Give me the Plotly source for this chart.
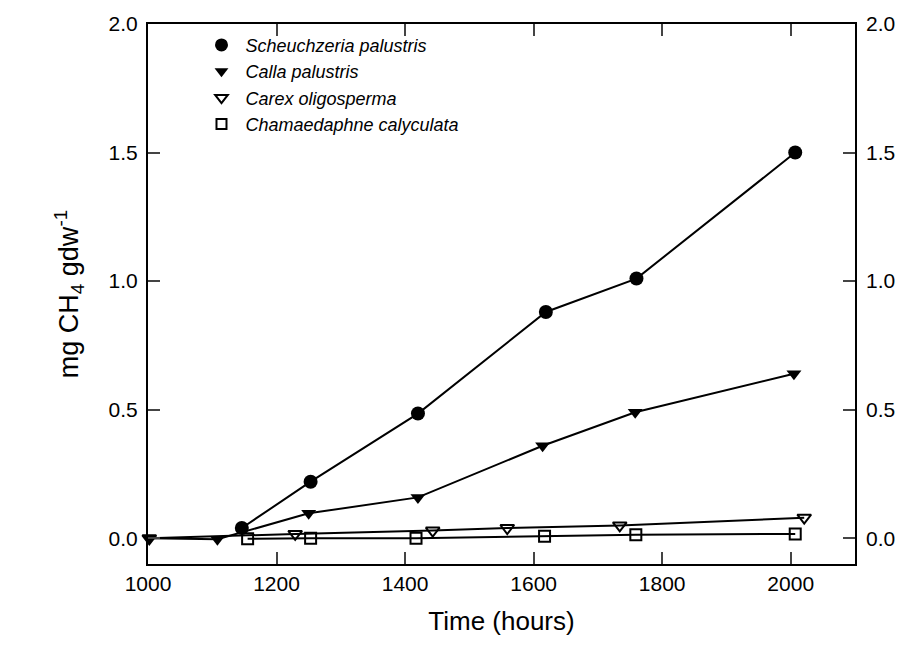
import plotly.graph_objects as go

# Data
scheu_x = [1146, 1253, 1420, 1619, 1760, 2007]
scheu_y = [0.04, 0.22, 0.485, 0.88, 1.01, 1.50]

calla_x = [1002, 1108, 1250, 1420, 1614, 1758, 2005]
calla_y = [0.0, -0.004, 0.097, 0.159, 0.36, 0.49, 0.64]

carex_x = [1002, 1229, 1443, 1559, 1734, 2021]
carex_y = [0.0, 0.017, 0.03, 0.04, 0.05, 0.08]

chama_x = [1155, 1253, 1417, 1617, 1759, 2007]
chama_y = [-0.002, 0.0, 0.0, 0.008, 0.014, 0.017]

names = ["Scheuchzeria palustris", "Calla palustris", "Carex oligosperma", "Chamaedaphne calyculata"]

x_ticks = [1000, 1200, 1400, 1600, 1800, 2000]
y_ticks = [0.0, 0.5, 1.0, 1.5, 2.0]

FONT = "Liberation Sans, Arial, sans-serif"

series = [
    (scheu_x, scheu_y, dict(symbol="circle", size=14, color="black", line=dict(width=0))),
    (calla_x, calla_y, dict(symbol="triangle-down", size=13, color="black", line=dict(width=0))),
    (carex_x, carex_y, dict(symbol="triangle-down-open", size=12, color="black", line=dict(width=2, color="black"))),
    (chama_x, chama_y, dict(symbol="square-open", size=11, color="black", line=dict(width=2, color="black"))),
]

fig = go.Figure()
for (xs, ys, mk), nm in zip(series, names):
    fig.add_trace(go.Scatter(x=xs, y=ys, mode="lines+markers", showlegend=False,
                             line=dict(color="black", width=2), marker=mk, cliponaxis=False))
for (xs, ys, mk), nm in zip(series, names):
    lm = dict(mk)
    lm["size"] = mk["size"] - 1
    fig.add_trace(go.Scatter(x=[None], y=[None], mode="markers", name=nm, marker=lm))

fig.update_layout(
    width=922, height=654,
    margin=dict(l=148, r=67, t=18, b=90),
    plot_bgcolor="white", paper_bgcolor="white",
    font=dict(family=FONT, color="black", size=20),
    showlegend=True,
    legend=dict(x=0.07, y=0.995, xanchor="left", yanchor="top",
                font=dict(family=FONT, size=18, style="italic"),
                bgcolor="rgba(0,0,0,0)", tracegroupgap=0, itemwidth=38),
    xaxis=dict(range=[1000, 2100], tickvals=x_ticks, ticks="inside", ticklen=12, tickwidth=2,
               showline=True, linewidth=2, linecolor="black", mirror="ticks",
               showgrid=False, zeroline=False, tickfont=dict(size=21),
               title=dict(text="Time (hours)", font=dict(size=26), standoff=18)),
    yaxis=dict(range=[-0.1, 2.0], tickvals=y_ticks, tickformat=".1f", ticks="inside", ticklen=12,
               tickwidth=2, showline=True, linewidth=2, linecolor="black", mirror=True,
               showgrid=False, zeroline=False, tickfont=dict(size=21), ticklabelstandoff=4,
               title=dict(text="mg CH<sub>4</sub> gdw<sup>-1</sup>", font=dict(size=27), standoff=22)),
    yaxis2=dict(range=[-0.1, 2.0], tickvals=y_ticks, tickformat=".1f", ticks="inside", ticklen=12,
                tickwidth=2, overlaying="y", side="right", showline=False,
                showgrid=False, zeroline=False, tickfont=dict(size=21), ticklabelstandoff=10),
)
fig.add_trace(go.Scatter(x=[None], y=[None], yaxis="y2", showlegend=False))

fig.write_html("out.html")
